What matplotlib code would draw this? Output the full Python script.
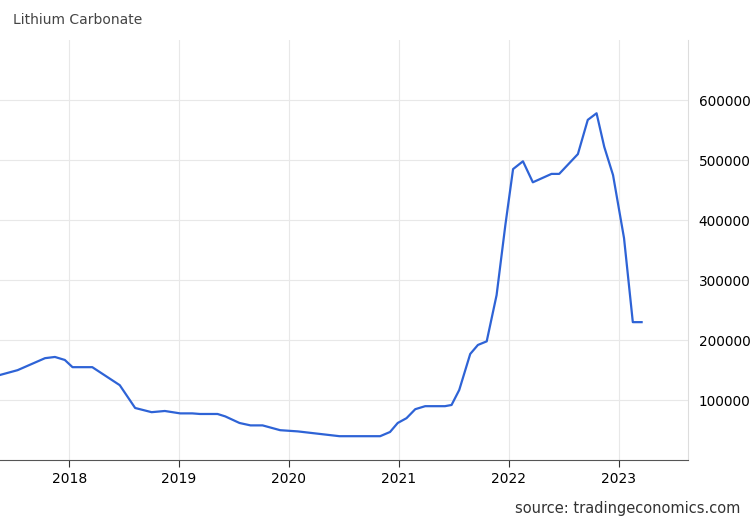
import matplotlib.pyplot as plt

# decimal year, price (CNY/T)
years = [2017.37, 2017.53, 2017.78, 2017.87, 2017.96, 2018.03, 2018.21, 2018.46, 2018.6,
         2018.75, 2018.87, 2019.01, 2019.12, 2019.19, 2019.35, 2019.42, 2019.55, 2019.65,
         2019.76, 2019.92, 2020.08, 2020.46, 2020.83, 2020.92, 2020.99, 2021.07, 2021.15,
         2021.24, 2021.42, 2021.48, 2021.55, 2021.65, 2021.72, 2021.8, 2021.89, 2021.97,
         2022.04, 2022.13, 2022.22, 2022.39, 2022.46, 2022.63, 2022.72, 2022.8, 2022.87,
         2022.95, 2023.05, 2023.13, 2023.21]
prices = [142000, 150000, 170000, 172000, 167000, 155000, 155000, 125000, 87000,
          80000, 82000, 78000, 78000, 77000, 77000, 73000, 62000, 58000,
          58000, 50000, 48000, 40000, 40000, 47000, 62000, 70000, 85000,
          90000, 90000, 92000, 117000, 177000, 192000, 198000, 275000, 392000,
          485000, 498000, 463000, 477000, 477000, 510000, 567000, 578000, 522000,
          475000, 370000, 230000, 230000]

fig = plt.figure(figsize=(7.5, 5.2), dpi=100)
ax = fig.add_axes([0.0, 0.115, 0.917, 0.808])
ax.plot(years, prices, color="#2e63d6", lw=1.6)
ax.set_xlim(2017.37, 2023.63)
ax.set_ylim(0, 700000)
ax.set_xticks(range(2018, 2024))
ax.set_yticks(range(100000, 700000, 100000))
ax.yaxis.tick_right()
ax.tick_params(axis="y", length=0, labelsize=9.8, pad=8)
ax.tick_params(axis="x", length=5, color="#333333", labelsize=10)
ax.grid(color="#e8e8e8", lw=0.8)
for s in ["top", "left"]:
    ax.spines[s].set_visible(False)
ax.spines["right"].set_color("#dddddd")
ax.spines["bottom"].set_color("#555555")
fig.text(13 / 750, 1 - 20 / 520, "Lithium Carbonate", fontsize=10, color="#444444", va="center")
fig.text(740 / 750, 1 - 508 / 520, "source: tradingeconomics.com", fontsize=10.5,
         color="#333333", ha="right", va="center")
fig.savefig("out.png")
